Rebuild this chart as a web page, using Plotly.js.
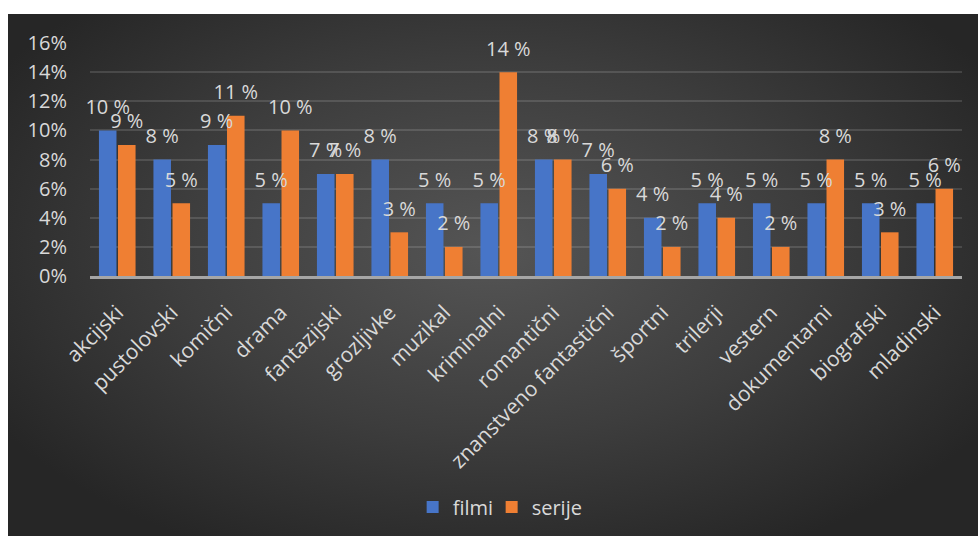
<!DOCTYPE html>
<html>
<head>
<meta charset="utf-8">
<script src="https://cdn.plot.ly/plotly-3.0.1.min.js"></script>
<style>
  html, body { margin: 0; padding: 0; background: #ffffff; }
  #bg { position: absolute; left: 8px; top: 14px; width: 970px; height: 522px;
        background: radial-gradient(ellipse 60% 65% at 50% 45%, #555555 0%, #3d3d3d 55%, #262626 100%); }
  #chart { position: absolute; left: 0; top: 0; width: 978px; height: 536px; }
</style>
</head>
<body>
<div id="bg"></div>
<div id="chart"></div>
<script>
const categories = ["akcijski", "pustolovski", "komični", "drama", "fantazijski", "grozljivke", "muzikal", "kriminalni", "romantični", "znanstveno fantastični", "športni", "trilerji", "vestern", "dokumentarni", "biografski", "mladinski"];
const filmi  = [10, 8, 9, 5, 7, 8, 5, 5, 8, 7, 4, 5, 5, 5, 5, 5];
const serije = [9, 5, 11, 10, 7, 3, 2, 14, 8, 6, 2, 4, 2, 8, 3, 6];
const seriesNames = ["filmi", "serije"];
const yTicks = [0, 2, 4, 6, 8, 10, 12, 14, 16];

const txtColor = "#d9d9d9";
const font = "Open Sans, sans-serif";
const colors = ["#4775c8", "#ef7f33"];
const legendWidths = [34, 60];
const values = [filmi, serije];

const traces = [];
values.forEach((vals, i) => {
  traces.push({
    type: "bar", name: seriesNames[i], x: categories, y: vals,
    offsetgroup: String(i), alignmentgroup: "a", legendwidth: legendWidths[i],
    marker: { color: colors[i] }, hoverinfo: "none"
  });
});
values.forEach((vals, i) => {
  traces.push({
    type: "scatter", mode: "markers+text", x: categories, y: vals,
    offsetgroup: String(i), alignmentgroup: "a",
    text: vals.map(v => v + " %"), textposition: "top center",
    textfont: { family: font, size: 20, color: txtColor },
    marker: { size: 17, opacity: 0 }, showlegend: false, hoverinfo: "none", cliponaxis: false
  });
});

const layout = {
  width: 978, height: 536,
  paper_bgcolor: "rgba(0,0,0,0)", plot_bgcolor: "rgba(0,0,0,0)",
  margin: { l: 90, r: 16, t: 43, b: 260 },
  barmode: "group", bargap: 0.3, bargroupgap: 0.08,
  scattermode: "group", scattergap: 0.3,
  font: { family: font, size: 20, color: txtColor },
  xaxis: {
    type: "category", tickangle: -45, showgrid: false, zeroline: false,
    showline: true, linecolor: "#a6a6a6", linewidth: 3,
    ticks: "", ticklabelstandoff: 13,
    tickfont: { family: font, size: 21, color: txtColor }
  },
  yaxis: {
    range: [0, 16], tickvals: yTicks, ticktext: yTicks.map(v => v + "%"),
    showgrid: true, gridcolor: "rgba(255,255,255,0.13)", gridwidth: 2,
    zeroline: false, showline: false, ticks: "", ticklabelstandoff: 22,
    tickfont: { family: font, size: 20, color: txtColor }
  },
  showlegend: true,
  legend: {
    orientation: "h", x: 0.516, xanchor: "center", xref: "container",
    y: 0.054, yanchor: "middle", yref: "container",
    font: { family: font, size: 20, color: txtColor }, bgcolor: "rgba(0,0,0,0)",
    itemwidth: 30
  }
};

Plotly.newPlot("chart", traces, layout, { displayModeBar: false, staticPlot: true });
</script>
</body>
</html>
